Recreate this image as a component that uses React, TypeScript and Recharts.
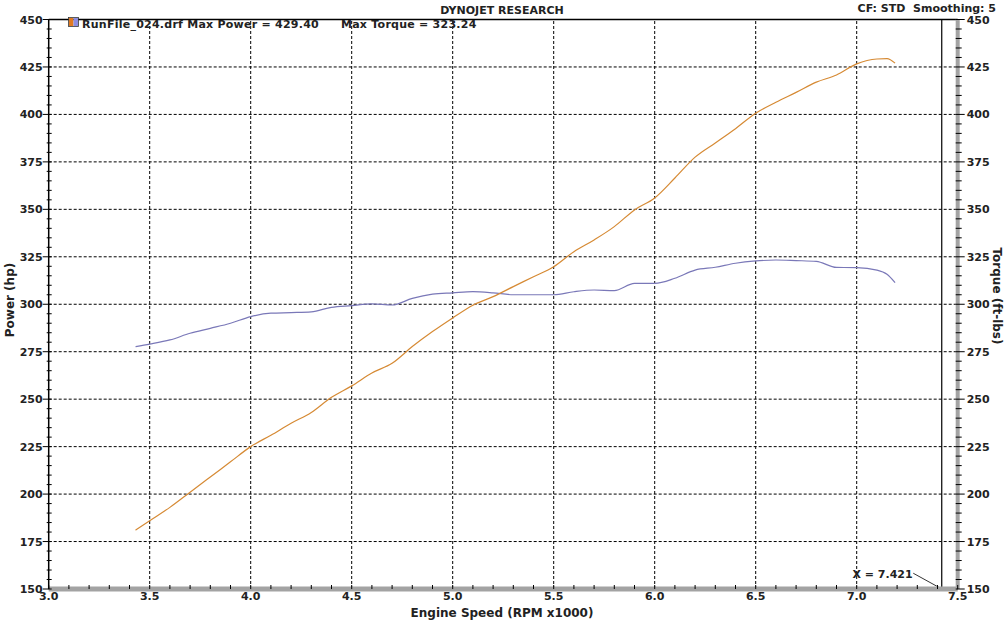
import { Legend, Line, LineChart, ReferenceDot, ReferenceLine, XAxis, YAxis } from "recharts";

// Engine speed (RPM x1000) and the two dyno curves
const rpm = [
  3.43, 3.5, 3.6, 3.7, 3.8, 3.9, 4.0, 4.1, 4.2, 4.3, 4.4, 4.5, 4.6, 4.7, 4.8, 4.9, 5.0, 5.1, 5.2, 5.3,
  5.4, 5.5, 5.6, 5.7, 5.8, 5.9, 6.0, 6.1, 6.2, 6.3, 6.4, 6.5, 6.6, 6.7, 6.8, 6.9, 7.0, 7.1, 7.15, 7.19,
];
const powerHp = [
  181, 186, 193, 201, 209, 217, 225, 231, 237.3, 243, 251, 257, 263.8, 268.9, 277.7, 285.6, 292.8, 299.5,
  304, 309.3, 314.5, 319.8, 327.7, 333.9, 340.9, 349.7, 356, 366.5, 377.5, 385, 392.5, 400.6, 406.4,
  411.6, 417, 420.8, 426.6, 429.2, 429.4, 427,
];
const torqueFtLbs = [
  277.7, 279, 281.2, 284.7, 287.3, 290, 293.5, 295.3, 295.6, 296, 298.4, 299.3, 300.2, 299.6, 303.1,
  305.3, 306, 306.6, 306, 305, 305, 305, 306.6, 307.5, 307.2, 311, 311, 313.7, 318, 319.5, 321.6, 322.8,
  323.3, 323, 322.6, 319.4, 319.3, 318, 315.8, 311.4,
];

const rpmMajorTicks = [3.0, 3.5, 4.0, 4.5, 5.0, 5.5, 6.0, 6.5, 7.0, 7.5];
const valueMajorTicks = [150, 175, 200, 225, 250, 275, 300, 325, 350, 375, 400, 425, 450];
const cursorRpm = 7.421;
const maxPower = "429.40";
const maxTorque = "323.24";

// minor tick marks: every 0.1 krpm and every 5 units
const rpmMinorTicks = Array.from({ length: 46 }, (_, i) => Math.round((3 + i * 0.1) * 10) / 10);
const valueMinorTicks = Array.from({ length: 61 }, (_, i) => 150 + i * 5);

const data = rpm.map((r, i) => ({ rpm: r, power: powerHp[i], torque: torqueFtLbs[i] }));

const FONT = "'DejaVu Sans', Verdana, sans-serif";
const POWER_COLOR = "#d68a34";
const TORQUE_COLOR = "#7a78b8";

const isMajor = (list: number[], v: number) => list.some((t) => Math.abs(t - v) < 1e-6);

function RpmTick({ x, y, payload }: any) {
  const v = payload.value as number;
  const major = isMajor(rpmMajorTicks, v);
  return (
    <g>
      <line x1={x} x2={x} y1={y - 4} y2={y} stroke="#000" />
      {major && (
        <text x={x} y={y + 11} textAnchor="middle" fontFamily={FONT} fontWeight="bold" fontSize={11} fill="#222">
          {v.toFixed(1)}
        </text>
      )}
    </g>
  );
}

function LeftTick({ x, y, payload }: any) {
  const v = payload.value as number;
  const major = isMajor(valueMajorTicks, v);
  return (
    <g>
      <line x1={major ? x - 6 : x - 2} x2={x + 3} y1={y} y2={y} stroke="#000" />
      {major && (
        <text x={x - 6} y={y + 4} textAnchor="end" fontFamily={FONT} fontWeight="bold" fontSize={11} fill="#222">
          {v}
        </text>
      )}
    </g>
  );
}

function RightTick({ x, y, payload }: any) {
  const v = payload.value as number;
  const major = isMajor(valueMajorTicks, v);
  return (
    <g>
      <line x1={x - 2} x2={major ? x + 7 : x + 4} y1={y} y2={y} stroke="#000" />
      {major && (
        <text x={x + 9} y={y + 4} textAnchor="start" fontFamily={FONT} fontWeight="bold" fontSize={11} fill="#222">
          {v}
        </text>
      )}
    </g>
  );
}

function RunLegend() {
  return (
    <svg width={480} height={20} style={{ display: "block" }}>
      <rect x={1} y={3} width={4.5} height={8} fill="#e07a22" />
      <rect x={5.5} y={3} width={4.5} height={8} fill="#8c8ce0" />
      <rect x={0.5} y={2.5} width={10} height={9} fill="none" stroke="#333" strokeWidth={0.8} />
      <text y={13} fontFamily={FONT} fontWeight="bold" fontSize={11} fill="#222" letterSpacing={0.25}>
        <tspan x={14}>{`RunFile_024.drf Max Power = ${maxPower}`}</tspan>
        <tspan x={273}>{`Max Torque = ${maxTorque}`}</tspan>
      </text>
    </svg>
  );
}

const dashed = { stroke: "#000", strokeDasharray: "3 2", strokeWidth: 1 };

export default function App() {
  return (
    <div style={{ position: "relative", width: 1005, height: 621, background: "#fff" }}>
      <style>{"body{margin:0}"}</style>
      <LineChart width={1005} height={621} data={data} margin={{ top: 19.5, right: 0, bottom: 0, left: 0 }}>
        <XAxis
          dataKey="rpm"
          type="number"
          domain={[3, 7.5]}
          ticks={rpmMinorTicks}
          interval={0}
          tickSize={0}
          tickMargin={0}
          tickLine={false}
          tick={(p: any) => <RpmTick {...p} />}
          axisLine={{ stroke: "#a3a3a3", strokeWidth: 5 }}
          height={32}
          label={() => (
            <text x={502} y={617} textAnchor="middle" fontFamily={FONT} fontWeight="bold" fontSize={12} fill="#222">
              Engine Speed (RPM x1000)
            </text>
          )}
        />
        <YAxis
          yAxisId="power"
          orientation="left"
          type="number"
          domain={[150, 450]}
          ticks={valueMinorTicks}
          interval={0}
          width={48.7}
          tickSize={0}
          tickMargin={0}
          tickLine={false}
          tick={(p: any) => <LeftTick {...p} />}
          axisLine={{ stroke: "#000", strokeWidth: 1.5 }}
          label={() => (
            <text
              transform="translate(14,300) rotate(-90)"
              textAnchor="middle"
              fontFamily={FONT}
              fontWeight="bold"
              fontSize={12}
              fill="#222"
            >
              Power (hp)
            </text>
          )}
        />
        <YAxis
          yAxisId="torque"
          orientation="right"
          type="number"
          domain={[150, 450]}
          ticks={valueMinorTicks}
          interval={0}
          width={47.3}
          tickSize={0}
          tickMargin={0}
          tickLine={false}
          tick={(p: any) => <RightTick {...p} />}
          axisLine={{ stroke: "#a3a3a3", strokeWidth: 4 }}
          label={() => (
            <text
              transform="translate(993,296) rotate(90)"
              textAnchor="middle"
              fontFamily={FONT}
              fontWeight="bold"
              fontSize={12}
              fill="#222"
            >
              Torque (ft-lbs)
            </text>
          )}
        />

        {rpmMajorTicks.slice(1, -1).map((t) => (
          <ReferenceLine key={`vx${t}`} x={t} yAxisId="power" {...dashed} />
        ))}
        {valueMajorTicks.slice(1, -1).map((t) => (
          <ReferenceLine key={`hy${t}`} y={t} yAxisId="power" {...dashed} />
        ))}
        <ReferenceLine y={450} yAxisId="power" stroke="#000" strokeWidth={1.5} />
        <ReferenceLine y={150} yAxisId="power" stroke="#000" strokeWidth={1.5} />
        <ReferenceLine x={cursorRpm} yAxisId="power" stroke="#000" strokeWidth={1.2} />
        <ReferenceLine
          yAxisId="power"
          segment={[
            { x: 7.28, y: 158.3 },
            { x: 7.415, y: 150.4 },
          ]}
          stroke="#000"
          strokeWidth={0.8}
        />
        <ReferenceDot
          x={7.128}
          y={157.9}
          yAxisId="power"
          r={0}
          stroke="none"
          label={{
            value: `X = ${cursorRpm}`,
            position: "center",
            fontFamily: FONT,
            fontWeight: "bold",
            fontSize: 11,
            fill: "#222",
          }}
        />

        <Line
          yAxisId="torque"
          dataKey="torque"
          type="monotone"
          stroke={TORQUE_COLOR}
          strokeWidth={1.2}
          dot={false}
          isAnimationActive={false}
        />
        <Line
          yAxisId="power"
          dataKey="power"
          type="monotone"
          stroke={POWER_COLOR}
          strokeWidth={1.2}
          dot={false}
          isAnimationActive={false}
        />

        <Legend
          layout="horizontal"
          verticalAlign="middle"
          align="center"
          wrapperStyle={{ top: 15, left: 68, width: 480, height: 20 }}
          content={() => <RunLegend />}
        />
      </LineChart>

      <svg width={1005} height={30} style={{ position: "absolute", left: 0, top: 0, pointerEvents: "none" }}>
        <text x={502} y={14} textAnchor="middle" fontFamily={FONT} fontWeight="bold" fontSize={11} fill="#222">
          DYNOJET RESEARCH
        </text>
        <text x={996} y={12} textAnchor="end" fontFamily={FONT} fontWeight="bold" fontSize={11} fill="#222">
          {"CF: STD\u00a0\u00a0Smoothing: 5"}
        </text>
      </svg>
    </div>
  );
}
